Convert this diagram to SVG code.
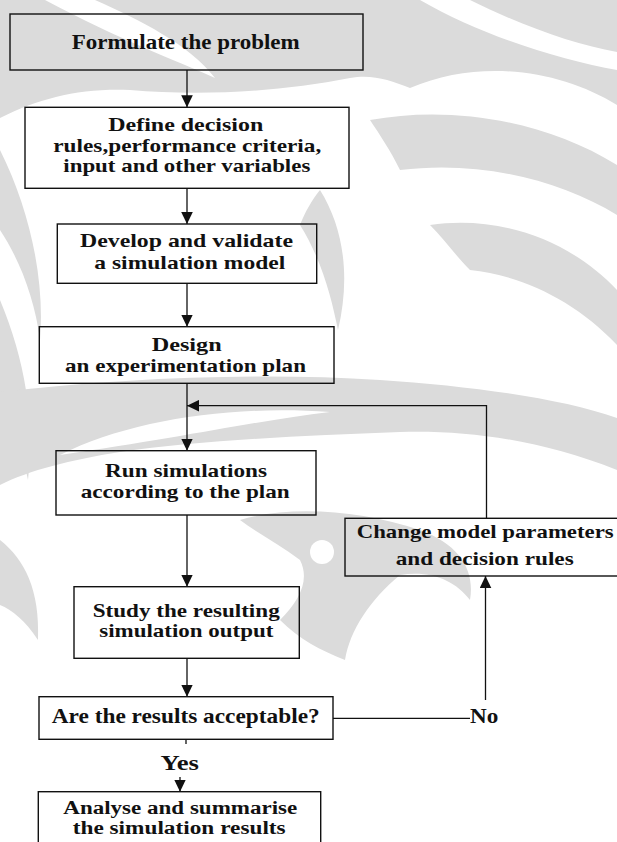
<svg xmlns="http://www.w3.org/2000/svg" width="617" height="842" viewBox="0 0 617 842">
  <defs>
    <style>
      .wm { fill: #dbdbdb; stroke: none; }
      .wm-cut { fill: #ffffff; stroke: none; }
      .box { fill: none; stroke: #111; stroke-width: 1.4; }
      .t { font-family: "Liberation Serif", "Times New Roman", serif; font-size: 19.5px; font-weight: bold; fill: #111; }
      .big { font-size: 21px; }
      .small { font-size: 18px; }
      .edge { fill: none; stroke: #111; stroke-width: 1.3; }
    </style>
    <marker id="arrow" markerUnits="userSpaceOnUse" markerWidth="12" markerHeight="12" refX="12" refY="5.8" orient="auto">
      <path d="M0,0 L12,5.8 L0,11.6 z" fill="#111"/>
    </marker>
  </defs>

  <rect width="617" height="842" fill="#fff"/>

  <!-- faint background ornament -->
  <g id="ornament">
    <path class="wm" d="M0,0 H617 V105 C560,70 480,58 410,88 C390,80 372,74 350,78 C280,92 200,96 130,90 C80,88 40,98 0,118 Z"/>
    <path class="wm-cut" d="M45,0 H95 C140,20 190,45 215,78 C175,60 120,40 45,0 Z"/>
    <path class="wm-cut" d="M420,0 H470 C520,25 575,45 617,52 V70 C560,60 480,35 420,0 Z"/>
    <path class="wm" d="M370,120 C450,105 545,120 617,165 V215 C560,180 480,160 400,170 C390,150 380,135 370,120 Z"/>
    <path class="wm" d="M430,225 C500,215 570,240 617,290 V345 C575,300 520,275 470,270 C455,255 445,240 430,225 Z"/>
    <path class="wm" d="M320,190 C345,230 350,280 338,330 C332,300 322,260 300,225 C305,212 312,200 320,190 Z"/>
    <path class="wm" d="M0,150 C30,210 45,280 40,340 C35,300 20,260 0,230 Z"/>
    <path class="wm" d="M0,300 C25,360 35,420 28,480 C22,450 12,420 0,400 Z"/>
    <path class="wm" d="M0,392 C120,378 260,372 380,380 C470,386 560,398 617,418 V470 C540,440 470,430 400,432 C300,436 200,440 120,452 C70,460 30,470 0,485 Z"/>
    <path class="wm-cut" d="M60,455 C130,420 230,405 330,412 C260,420 180,438 60,455 Z"/>
    <path class="wm" d="M0,540 C25,560 40,590 38,640 C25,620 12,610 0,605 Z"/>
    <path class="wm" d="M240,520 C290,505 360,510 420,530 C460,545 475,570 470,600 C455,580 430,570 400,575 C370,600 350,630 345,660 C320,650 300,640 280,620 C300,600 310,580 300,560 C280,545 260,535 240,520 Z"/>
    <circle class="wm-cut" cx="322" cy="552" r="12"/>
  </g>

  <!-- connectors -->
  <g id="connectors">
    <path class="edge" d="M187,70 V107.3" marker-end="url(#arrow)"/>
    <path class="edge" d="M187,188.3 V224" marker-end="url(#arrow)"/>
    <path class="edge" d="M187,283.3 V326.7" marker-end="url(#arrow)"/>
    <path class="edge" d="M187,383.3 V450.7" marker-end="url(#arrow)"/>
    <path class="edge" d="M486.5,518.3 V405.7 H187" marker-end="url(#arrow)"/>
    <path class="edge" d="M187,515 V586.7" marker-end="url(#arrow)"/>
    <path class="edge" d="M187,658.3 V696.7" marker-end="url(#arrow)"/>
    <path class="edge" d="M333,718.3 H470"/>
    <path class="edge" d="M485.5,700 V576" marker-end="url(#arrow)"/>
    <path class="edge" d="M186,739.3 V744"/>
    <path class="edge" d="M180,777 V791.7" marker-end="url(#arrow)"/>
    <text class="t big" x="470" y="723.3" textLength="28.3" lengthAdjust="spacingAndGlyphs">No</text>
    <text class="t big" x="160.5" y="770" textLength="38.5" lengthAdjust="spacingAndGlyphs">Yes</text>
  </g>

  <!-- process steps -->
  <g id="formulate">
    <rect class="box" x="10" y="14" width="353" height="56"/>
    <text class="t big" x="71.7" y="49" textLength="228" lengthAdjust="spacingAndGlyphs">Formulate the problem</text>
  </g>

  <g id="define">
    <rect class="box" x="25" y="107.3" width="324" height="81"/>
    <text class="t" x="108.3" y="131" textLength="155" lengthAdjust="spacingAndGlyphs">Define decision</text>
    <text class="t" x="53.3" y="151.5" textLength="268" lengthAdjust="spacingAndGlyphs">rules,performance criteria,</text>
    <text class="t" x="63.3" y="172" textLength="247" lengthAdjust="spacingAndGlyphs">input and other variables</text>
  </g>

  <g id="develop">
    <rect class="box" x="57.3" y="224" width="259.4" height="59.3"/>
    <text class="t" x="80" y="246.5" textLength="213" lengthAdjust="spacingAndGlyphs">Develop and validate</text>
    <text class="t" x="94.3" y="268.5" textLength="191" lengthAdjust="spacingAndGlyphs">a simulation model</text>
  </g>

  <g id="design">
    <rect class="box" x="39.3" y="326.7" width="294.7" height="56.6"/>
    <text class="t" x="151.7" y="351" textLength="70" lengthAdjust="spacingAndGlyphs">Design</text>
    <text class="t" x="65" y="371.5" textLength="241" lengthAdjust="spacingAndGlyphs">an experimentation plan</text>
  </g>

  <g id="run">
    <rect class="box" x="56" y="450.7" width="260" height="64.3"/>
    <text class="t" x="105" y="476.5" textLength="162" lengthAdjust="spacingAndGlyphs">Run simulations</text>
    <text class="t" x="80.7" y="497.5" textLength="209" lengthAdjust="spacingAndGlyphs">according to the plan</text>
  </g>

  <g id="change">
    <rect class="box" x="345" y="518.3" width="290" height="57.7"/>
    <text class="t" x="356.7" y="538.3" textLength="257" lengthAdjust="spacingAndGlyphs">Change model parameters</text>
    <text class="t" x="395.7" y="565" textLength="178" lengthAdjust="spacingAndGlyphs">and decision rules</text>
  </g>

  <g id="study">
    <rect class="box" x="74" y="586.7" width="225.3" height="71.6"/>
    <text class="t" x="92.7" y="616.5" textLength="187" lengthAdjust="spacingAndGlyphs">Study the resulting</text>
    <text class="t" x="99.3" y="637" textLength="174" lengthAdjust="spacingAndGlyphs">simulation output</text>
  </g>

  <g id="acceptable">
    <rect class="box" x="39" y="696.7" width="294" height="42.6"/>
    <text class="t big" x="51.7" y="722.7" textLength="268" lengthAdjust="spacingAndGlyphs">Are the results acceptable?</text>
  </g>

  <g id="analyse">
    <rect class="box" x="38.3" y="791.7" width="282.4" height="70"/>
    <text class="t small" x="63.3" y="814" textLength="234" lengthAdjust="spacingAndGlyphs">Analyse and summarise</text>
    <text class="t small" x="72.7" y="833.5" textLength="213" lengthAdjust="spacingAndGlyphs">the simulation results</text>
  </g>
</svg>
